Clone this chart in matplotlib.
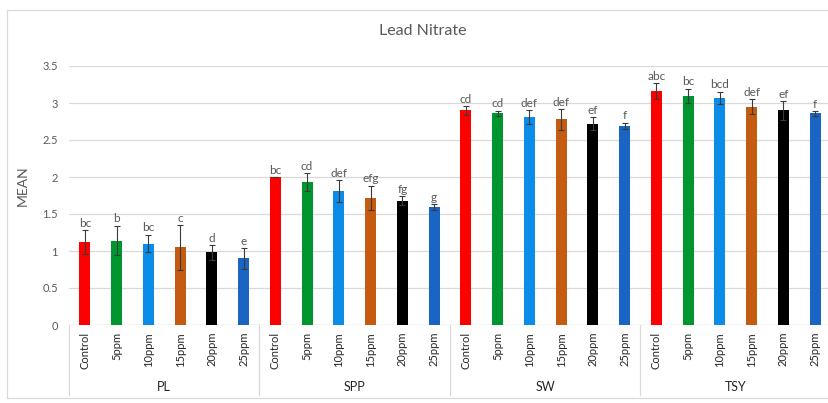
import numpy as np
import matplotlib
matplotlib.use("Agg")
import matplotlib.pyplot as plt
from matplotlib.patches import Rectangle
import matplotlib.transforms as mtransforms

plt.rcParams['font.family'] = ['Lato', 'DejaVu Sans']

groups = ['PL', 'SPP', 'SW', 'TSY']
treatments = ['Control', '5ppm', '10ppm', '15ppm', '20ppm', '25ppm']

mean_pl = [1.12, 1.14, 1.10, 1.05, 0.98, 0.90]
mean_spp = [2.00, 1.93, 1.81, 1.72, 1.68, 1.59]
mean_sw = [2.90, 2.86, 2.81, 2.78, 2.72, 2.69]
mean_tsy = [3.16, 3.10, 3.07, 2.95, 2.90, 2.86]

err_pl = [0.16, 0.20, 0.12, 0.30, 0.10, 0.14]
err_spp = [0.00, 0.12, 0.15, 0.165, 0.06, 0.04]
err_sw = [0.06, 0.035, 0.09, 0.14, 0.085, 0.045]
err_tsy = [0.11, 0.095, 0.085, 0.10, 0.125, 0.03]

letters_pl = ['bc', 'b', 'bc', 'c', 'd', 'e']
letters_spp = ['bc', 'cd', 'def', 'efg', 'fg', 'g']
letters_sw = ['cd', 'cd', 'def', 'def', 'ef', 'f']
letters_tsy = ['abc', 'bc', 'bcd', 'def', 'ef', 'f']

bar_colors = ['#ff0000', '#00962f', '#0a8ce8', '#c55a11', '#000000', '#1a64c4']
TXT = '#595959'
GRID = '#d9d9d9'

means = mean_pl + mean_spp + mean_sw + mean_tsy
errs = err_pl + err_spp + err_sw + err_tsy
letters = letters_pl + letters_spp + letters_sw + letters_tsy
n_t = len(treatments)
x = np.arange(len(means))

W, H = 829, 403
fig = plt.figure(figsize=(W / 100, H / 100), dpi=100)
fig.patches.append(Rectangle((7 / W, 5 / H), 1.0, 388 / H, transform=fig.transFigure,
                             fill=False, edgecolor=GRID, lw=0.9))

ax = fig.add_axes([69 / W, 78 / H, 762 / W, 259 / H])
ax.bar(x, means, width=0.34, color=bar_colors * len(groups), zorder=3,
       yerr=errs, error_kw=dict(ecolor='#3a3a3a', elinewidth=0.8, capsize=2.5, capthick=0.8))

for xi, m, e, lab in zip(x, means, errs, letters):
    ax.annotate(lab, (xi, m + e), xytext=(0, 1), textcoords='offset points',
                ha='center', va='bottom', fontsize=8.5, color=TXT, zorder=4)

ax.set_xlim(-0.5, len(means) - 0.5)
ax.set_ylim(0, 3.5)
ax.set_yticks(np.arange(0, 3.51, 0.5))
ax.set_yticklabels(['0', '0.5', '1', '1.5', '2', '2.5', '3', '3.5'])
ax.yaxis.grid(True, color=GRID, lw=0.9, zorder=0)
ax.set_axisbelow(True)
for s in ax.spines.values():
    s.set_visible(False)
ax.axhline(0, color=GRID, lw=0.9, zorder=2)

ax.set_xticks(x)
ax.set_xticklabels(treatments * len(groups), rotation=90, va='top', ha='center')
ax.tick_params(axis='x', length=0, pad=5, labelsize=8, labelcolor='#262626')
ax.tick_params(axis='y', length=0, pad=8, labelsize=8, labelcolor=TXT)

# group separators and group names under the treatment labels
trans = mtransforms.blended_transform_factory(ax.transData, ax.transAxes)
for b in np.arange(len(groups) + 1) * n_t - 0.5:
    ax.plot([b, b], [0, -0.27], transform=trans, color=GRID, lw=0.9, clip_on=False)
for gi, g in enumerate(groups):
    ax.text(gi * n_t + (n_t - 1) / 2, -0.24, g, transform=trans, ha='center', va='center',
            fontsize=9, color='#262626')

fig.text(23 / W, 1 - 186 / H, 'MEAN', rotation=90, ha='center', va='center',
         fontsize=10, color=TXT)
fig.text(423 / W, 1 - 31 / H, 'Lead Nitrate', ha='center', va='center', fontsize=11.5, color=TXT)

fig.savefig('out.png', dpi=100)
